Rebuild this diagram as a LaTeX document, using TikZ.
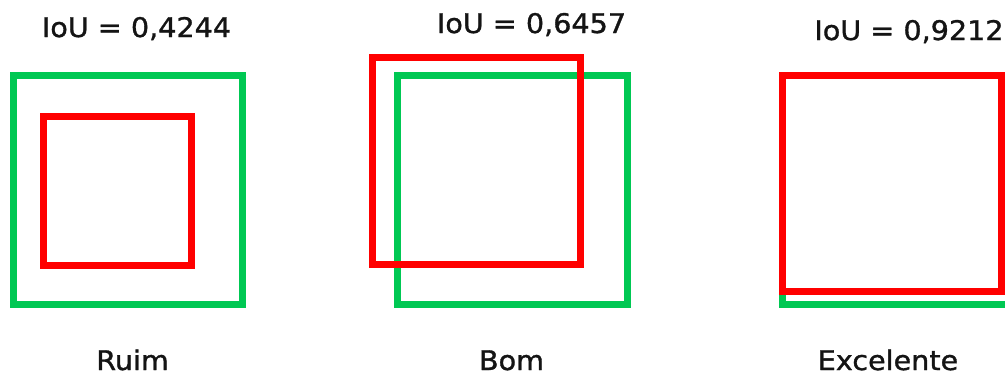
\documentclass[tikz,border=0pt]{standalone}
\usepackage{fontspec}
\setmainfont{DejaVu Sans}[FakeBold=1.2,FakeStretch=1.06]
\definecolor{boxgreen}{RGB}{0,200,83}
\definecolor{boxred}{RGB}{255,0,0}
\definecolor{txtdark}{RGB}{20,20,20}
\tikzset{
  gtbox/.style={draw=boxgreen, line width=7pt},
  prbox/.style={draw=boxred, line width=7pt},
  iou/.style={font=\fontsize{27}{30}\selectfont, text=txtdark, anchor=base, inner sep=0pt},
  lbl/.style={font=\fontsize{27}{30}\selectfont, text=txtdark, anchor=base, inner sep=0pt}
}
\begin{document}
\begin{tikzpicture}[x=1pt,y=-1pt]
\useasboundingbox (0,0) rectangle (1005,376);
\clip (0,0) rectangle (1005,376);
% panel 1
\draw[gtbox] (13.5,75.5) rectangle (242.5,304.5);
\draw[prbox] (43.5,116.5) rectangle (191.5,265.5);
\node[iou] (t1) at (136.5,37) {IoU = 0,4244};
\node[lbl] (l1) at (132.5,370) {Ruim};
% panel 2
\draw[gtbox] (397.5,75.5) rectangle (627.5,304.5);
\draw[prbox] (372.5,57.5) rectangle (580.5,264.5);
\node[iou] (t2) at (531.5,33) {IoU = 0,6457};
\node[lbl] (l2) at (511.5,370) {Bom};
% panel 3
\draw[gtbox] (782.5,75.5) rectangle (1030,304.5);
\draw[prbox] (782.5,75.5) rectangle (1001.5,291.5);
\node[iou] (t3) at (909,40) {IoU = 0,9212};
\node[lbl] (l3) at (888,370) {Excelente};
\end{tikzpicture}
\end{document}
